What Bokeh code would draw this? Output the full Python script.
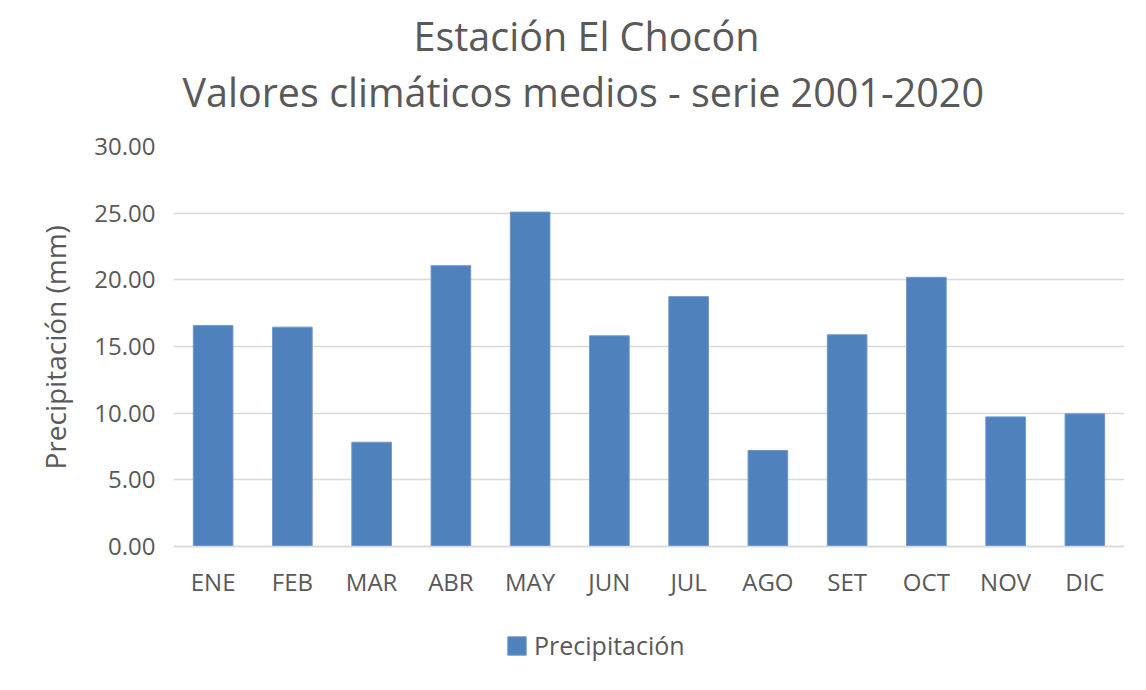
from bokeh.plotting import figure
from bokeh.models import Range1d, Title, NumeralTickFormatter, FixedTicker, Legend, LegendItem
from bokeh.embed import file_html
from bokeh.resources import INLINE

months = ["ENE", "FEB", "MAR", "ABR", "MAY", "JUN", "JUL", "AGO", "SET", "OCT", "NOV", "DIC"]
precip = [16.57, 16.45, 7.82, 21.06, 25.08, 15.80, 18.74, 7.20, 15.88, 20.19, 9.72, 9.95]
y_ticks = [0, 5, 10, 15, 20, 25, 30]
title1 = "Estación El Chocón"
title2 = "Valores climáticos medios - serie 2001-2020"
series_name = "Precipitación"
y_label = "Precipitación (mm)"

FONT = "Open Sans"
GRAY = "#595959"

# frame extends below zero so that the category labels and legend sit inside it
p = figure(x_range=months, y_range=Range1d(-9.525, 30), frame_width=951, frame_height=527,
           output_backend="svg", toolbar_location=None,
           min_border_left=173, min_border_right=14, min_border_top=0, min_border_bottom=0)
p.title.visible = False

r = p.vbar(x=months, top=precip, width=0.5, fill_color="#4F81BD", line_color="#6F97C9", line_width=1)

spacer = Title(text=" ", text_font_size="1px", standoff=31)
t2 = Title(text=title2, align="left", offset=9, text_font=FONT, text_font_size="39.5px",
           text_font_style="normal", text_color=GRAY, standoff=-12)
t1 = Title(text=title1, align="left", offset=240, text_font=FONT, text_font_size="39.5px",
           text_font_style="normal", text_color=GRAY, standoff=12)
p.add_layout(spacer, "above")
p.add_layout(t2, "above")
p.add_layout(t1, "above")

# y-axis title, placed along the 0-30 part of the frame
ytitle = Title(text=y_label, align="left", offset=204, text_font=FONT, text_font_size="28px",
               text_font_style="normal", text_color=GRAY, standoff=35)
p.add_layout(ytitle, "left")

p.outline_line_color = None
p.background_fill_color = "white"
p.border_fill_color = "white"

p.xgrid.grid_line_color = None
p.ygrid.grid_line_color = "#D9D9D9"
p.ygrid.grid_line_width = 1.5
p.ygrid.ticker = FixedTicker(ticks=y_ticks)

p.yaxis.ticker = FixedTicker(ticks=y_ticks)
p.yaxis.formatter = NumeralTickFormatter(format="0.00")
p.yaxis.axis_line_color = None
p.yaxis.major_tick_line_color = None
p.yaxis.minor_tick_line_color = None
p.yaxis.major_label_text_font = FONT
p.yaxis.major_label_text_font_size = "24px"
p.yaxis.major_label_text_color = GRAY
p.yaxis.major_label_standoff = 12

p.xaxis.fixed_location = 0
p.xaxis.axis_line_color = "#D9D9D9"
p.xaxis.axis_line_width = 1.5
p.xaxis.major_tick_line_color = None
p.xaxis.minor_tick_line_color = None
p.xaxis.major_label_text_font = FONT
p.xaxis.major_label_text_font_size = "24px"
p.xaxis.major_label_text_color = GRAY
p.xaxis.major_label_standoff = 12

legend = Legend(items=[LegendItem(label=series_name, renderers=[r])],
                location=(332, 11), orientation="horizontal",
                label_text_font=FONT, label_text_font_size="25px", label_text_color=GRAY,
                glyph_width=23, glyph_height=23, label_standoff=6,
                border_line_color=None, background_fill_alpha=0, margin=0, padding=0)
p.add_layout(legend)

open("out.html", "w").write(file_html(p, INLINE))
